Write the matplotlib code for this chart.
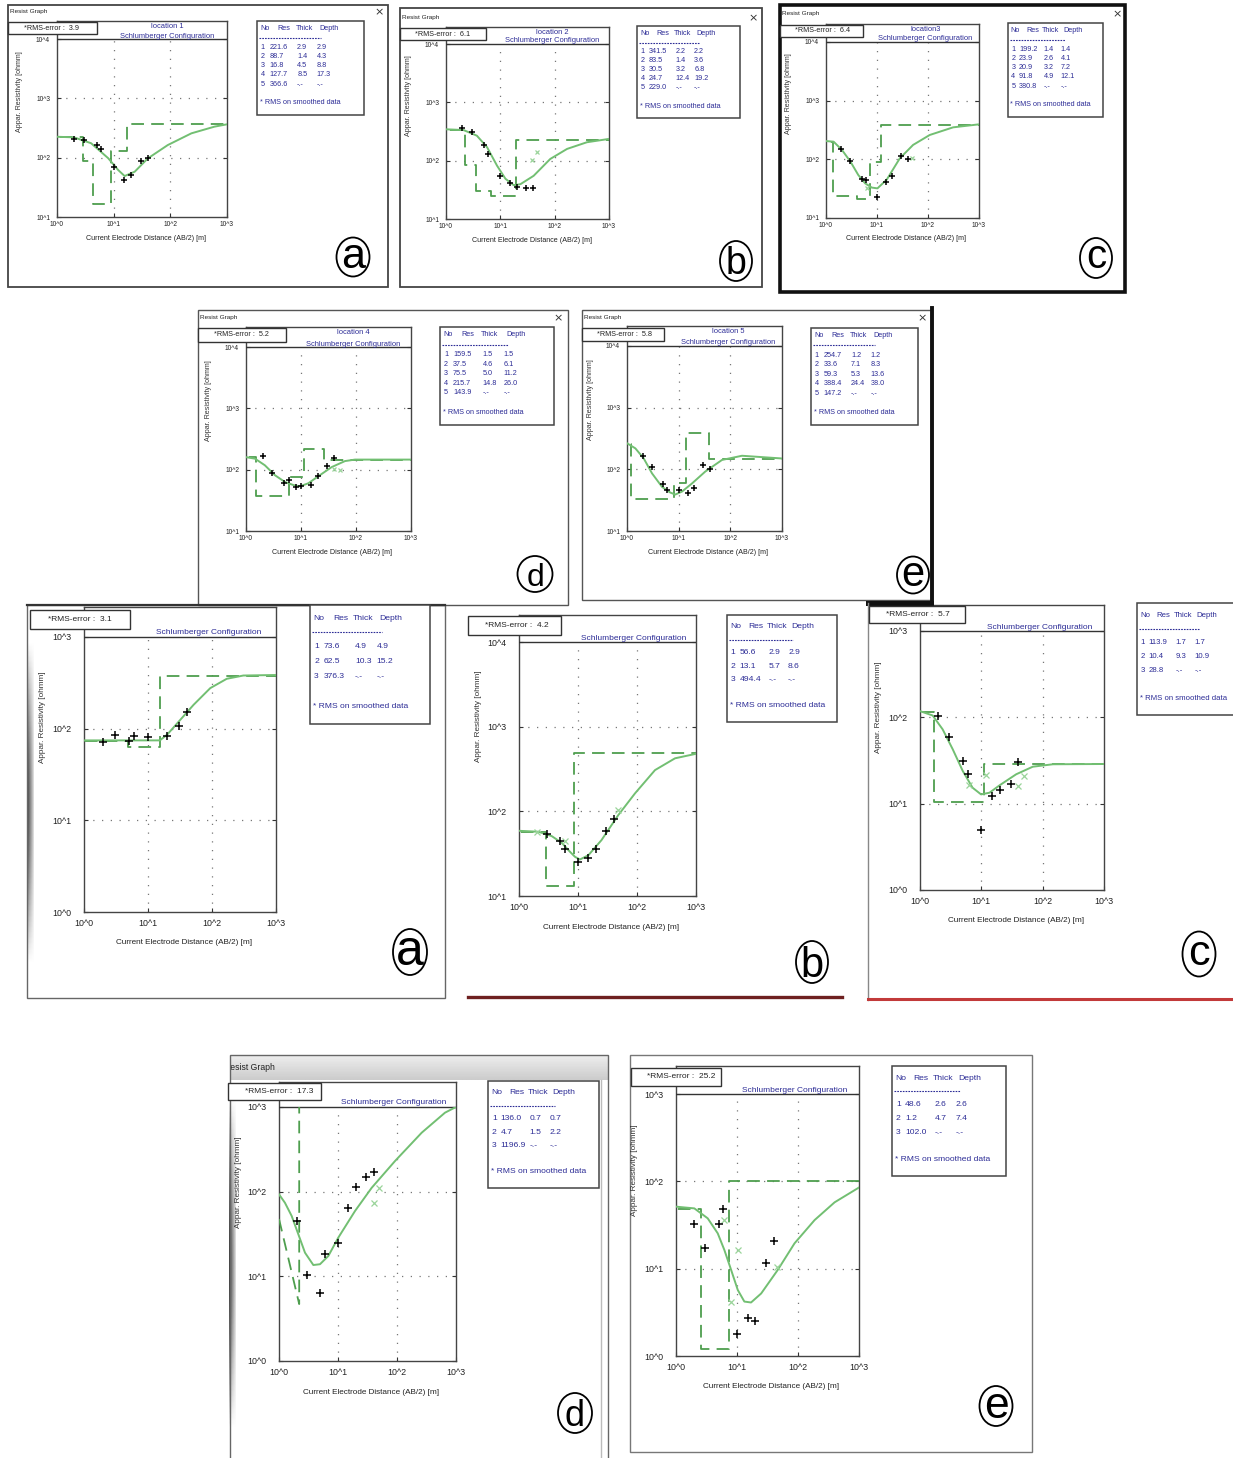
import numpy as np
import matplotlib
matplotlib.use("Agg")
import matplotlib.pyplot as plt
from matplotlib.patches import Rectangle, Ellipse
from matplotlib.lines import Line2D
from matplotlib.ticker import NullLocator
from matplotlib import font_manager

W, H = 1233, 1458
_names = {f.name for f in font_manager.fontManager.ttflist}
NARROW = "Liberation Sans Narrow" if "Liberation Sans Narrow" in _names else "Liberation Sans"
plt.rcParams["font.family"] = [NARROW, "DejaVu Sans"]

# ------------------------------------------------------------------ data
# panel 1 (location 1)
L1_RES = [221.6, 88.7, 16.8, 127.7, 366.6]
L1_THICK = [2.9, 1.4, 4.5, 8.5]
L1_DEPTH = [2.9, 4.3, 8.8, 17.3]
L1_PTS_X = [2, 3, 5, 6, 10, 15, 20, 30, 40]
L1_PTS_Y = [206, 198, 163, 140, 70, 42, 51, 89, 100]
L1_FIT_X = [1, 2, 4, 8, 12, 15.6, 23.5, 40, 90, 235, 600, 1000]
L1_FIT_Y = [225, 220, 175, 98, 62, 49, 58, 97, 163, 257, 333, 365]
L1_SM_X, L1_SM_Y = [], []
L1_RMS = 3.9

# panel 2 (location 2)
L2_RES = [341.5, 83.5, 30.5, 24.7, 229.0]
L2_THICK = [2.2, 1.4, 3.2, 12.4]
L2_DEPTH = [2.2, 3.6, 6.8, 19.2]
L2_PTS_X = [2, 3, 5, 6, 10, 15, 20, 30, 40]
L2_PTS_Y = [360, 305, 182, 128, 55, 42, 36, 34, 34]
L2_FIT_X = [1, 2.1, 3.7, 5.7, 8.7, 12.4, 17.6, 23.4, 41, 83, 169, 393, 1000]
L2_FIT_Y = [345, 335, 268, 170, 82, 49, 38, 39.5, 55, 107, 159, 207, 236]
L2_SM_X, L2_SM_Y = [39, 47], [102, 141]
L2_RMS = 6.1

# panel 3 (location3)
L3_RES = [199.2, 23.9, 20.9, 91.8, 380.8]
L3_THICK = [1.4, 2.6, 3.2, 4.9]
L3_DEPTH = [1.4, 4.1, 7.2, 12.1]
L3_PTS_X = [2, 3, 5, 6, 10, 15, 20, 30, 40]
L3_PTS_Y = [150, 95, 46, 45, 23, 41, 51, 114, 102]
L3_FIT_X = [1, 1.41, 2.05, 3, 4.3, 5.85, 7.9, 10.2, 15.5, 28, 51, 108, 311, 1000]
L3_FIT_Y = [205, 200, 145, 92, 54, 39, 33, 32, 45, 104, 176, 260, 351, 395]
L3_SM_X, L3_SM_Y = [6.3, 48], [32, 104]
L3_RMS = 6.4

# panel 4 (location 4)
L4_RES = [159.5, 37.5, 75.5, 215.7, 143.9]
L4_THICK = [1.5, 4.6, 5.0, 14.8]
L4_DEPTH = [1.5, 6.1, 11.2, 26.0]
L4_PTS_X = [2, 3, 5, 6, 8, 10, 15, 20, 30, 40]
L4_PTS_Y = [165, 89, 61, 67, 52, 54, 56, 78, 116, 157]
L4_FIT_X = [1, 1.46, 2.2, 3.37, 5.1, 7.3, 9.6, 13.6, 20.6, 36, 63, 96, 1000]
L4_FIT_Y = [160, 151, 118, 81, 63, 56, 53.5, 60, 78, 110, 138, 146, 146]
L4_SM_X, L4_SM_Y = [39, 51], [102, 100]
L4_RMS = 5.2

# panel 5 (location 5)
L5_RES = [254.7, 33.6, 59.3, 388.4, 147.2]
L5_THICK = [1.2, 7.1, 5.3, 24.4]
L5_DEPTH = [1.2, 8.3, 13.6, 38.0]
L5_PTS_X = [2, 3, 5, 6, 10, 15, 20, 30, 40]
L5_PTS_Y = [164, 108, 57, 46, 46, 42, 50, 116, 101]
L5_FIT_X = [1, 1.45, 2.1, 3.05, 4.76, 6.9, 8.6, 11.6, 18.1, 32.7, 69, 168, 1000]
L5_FIT_Y = [265, 219, 151, 86, 52, 42, 39, 43.6, 59, 92, 142, 166, 150]
L5_SM_X, L5_SM_Y = [], []
L5_RMS = 5.8

# panel 6 (second set a)
S1_RES = [73.6, 62.5, 376.3]
S1_THICK = [4.9, 10.3]
S1_DEPTH = [4.9, 15.2]
S1_PTS_X = [2, 3, 5, 6, 10, 20, 30, 40]
S1_PTS_Y = [71, 86, 74, 83, 81, 83, 107, 151]
S1_FIT_X = [1, 4.7, 15.3, 19.8, 32, 51.5, 94, 170, 309, 1000]
S1_FIT_Y = [74.5, 74.5, 74.5, 85.6, 125, 182, 277, 350, 380, 385]
S1_SM_X, S1_SM_Y = [], []
S1_RMS = 3.1

# panel 7 (second set b)
S2_RES = [56.6, 13.1, 494.4]
S2_THICK = [2.9, 5.7]
S2_DEPTH = [2.9, 8.6]
S2_PTS_X = [3, 5, 6, 10, 15, 20, 30, 40]
S2_PTS_Y = [54, 45, 36, 25, 28, 36, 59, 82]
S2_FIT_X = [1, 2.13, 3.58, 5.3, 6.9, 8.9, 10.8, 15, 25, 48, 92.5, 202, 441, 1000]
S2_FIT_Y = [58.9, 57.4, 51, 42.5, 34.7, 29, 27, 30.3, 45.7, 90, 163, 307, 423, 478]
S2_SM_X, S2_SM_Y = [2, 6, 48], [57, 45, 105]
S2_RMS = 4.2

# panel 8 (second set c)
S3_RES = [113.9, 10.4, 28.8]
S3_THICK = [1.7, 9.3]
S3_DEPTH = [1.7, 10.9]
S3_PTS_X = [2, 3, 5, 6, 10, 15, 20, 30, 40]
S3_PTS_Y = [104, 59, 31, 22, 5.0, 12.3, 14.4, 16.7, 30]
S3_FIT_X = [1, 1.61, 2.34, 3.42, 4.98, 7.2, 9.9, 13.6, 19.8, 37, 69, 147, 1000]
S3_FIT_Y = [118, 105, 72.6, 42.6, 23.9, 15.3, 12.8, 13.4, 16.3, 21.9, 26.8, 28.6, 28.8]
S3_SM_X, S3_SM_Y = [6.2, 12, 39, 49], [16.3, 21.3, 16, 20.9]
S3_RMS = 5.7

# panel 9 (second set d)
S4_RES = [136.0, 4.7, 1196.9]
S4_THICK = [0.7, 1.5]
S4_DEPTH = [0.7, 2.2]
S4_PTS_X = [2, 3, 5, 6, 10, 15, 20, 30, 40]
S4_PTS_Y = [45, 10.3, 6.3, 18.5, 24.5, 63.5, 113.5, 149, 172]
S4_FIT_X = [1, 1.26, 1.64, 2.13, 2.76, 3.82, 4.95, 6.86, 10.1, 19.4, 37.2, 92.5, 262, 651, 1000]
S4_FIT_Y = [93, 74, 51.6, 31.3, 19, 13.6, 13.9, 17.4, 28.6, 59, 111, 230, 497, 857, 1000]
S4_SM_X, S4_SM_Y = [41, 50], [74, 111]
S4_RMS = 17.3

# panel 10 (second set e)
S5_RES = [48.6, 1.2, 102.0]
S5_THICK = [2.6, 4.7]
S5_DEPTH = [2.6, 7.4]
S5_PTS_X = [2, 3, 5, 6, 10, 15, 20, 30, 40]
S5_PTS_Y = [32.2, 17.1, 32.2, 47.8, 1.79, 2.75, 2.52, 11.7, 20.9]
S5_FIT_X = [1, 2, 3.31, 4.83, 6.2, 8, 10.3, 13.2, 17, 24.9, 46.7, 87.7, 187, 398, 1000]
S5_FIT_Y = [51.3, 49, 37.7, 25.4, 16.4, 9.7, 5.7, 4.2, 4.1, 5.2, 9.7, 19.5, 36, 57.5, 85]
S5_SM_X, S5_SM_Y = [6.2, 10.3, 8, 46], [36, 16.4, 4.2, 10.5]
S5_RMS = 25.2

X_TICK_LABELS = ["10^0", "10^1", "10^2", "10^3"]
XLABEL = "Current Electrode Distance (AB/2) [m]"
YLABEL = "Appar. Resistivity [ohmm]"
CONFIG = "Schlumberger Configuration"

# ------------------------------------------------------------------ layout (pixels)
PANELS = [
    dict(res=L1_RES, thick=L1_THICK, depth=L1_DEPTH, px=L1_PTS_X, py=L1_PTS_Y, fx=L1_FIT_X, fy=L1_FIT_Y,
         sx=L1_SM_X, sy=L1_SM_Y, rms=L1_RMS, loc="location 1", letter="a",
         ax=(57, 227, 21, 39, 217), yd=(1, 4), rmsbox=(8, 22, 97, 34), table=(257, 21, 364, 115),
         circ=(353, 257, 16.5, 19.5, 31), small=True),
    dict(res=L2_RES, thick=L2_THICK, depth=L2_DEPTH, px=L2_PTS_X, py=L2_PTS_Y, fx=L2_FIT_X, fy=L2_FIT_Y,
         sx=L2_SM_X, sy=L2_SM_Y, rms=L2_RMS, loc="location 2", letter="b",
         ax=(446, 609, 27, 44, 219), yd=(1, 4), rmsbox=(400, 28, 486, 40), table=(637, 26, 740, 118),
         circ=(736, 261, 16, 20, 27), small=True),
    dict(res=L3_RES, thick=L3_THICK, depth=L3_DEPTH, px=L3_PTS_X, py=L3_PTS_Y, fx=L3_FIT_X, fy=L3_FIT_Y,
         sx=L3_SM_X, sy=L3_SM_Y, rms=L3_RMS, loc="location3", letter="c",
         ax=(826, 979, 24, 42, 218), yd=(1, 4), rmsbox=(780, 25, 863, 37), table=(1008, 23, 1103, 117),
         circ=(1096, 258, 16, 20, 29), small=True),
    dict(res=L4_RES, thick=L4_THICK, depth=L4_DEPTH, px=L4_PTS_X, py=L4_PTS_Y, fx=L4_FIT_X, fy=L4_FIT_Y,
         sx=L4_SM_X, sy=L4_SM_Y, rms=L4_RMS, loc="location 4", letter="d",
         ax=(246, 411, 327, 347, 531), yd=(1, 4), rmsbox=(198, 328, 286, 342), table=(440, 327, 554, 425),
         circ=(535, 574, 17.5, 18, 23), small=True),
    dict(res=L5_RES, thick=L5_THICK, depth=L5_DEPTH, px=L5_PTS_X, py=L5_PTS_Y, fx=L5_FIT_X, fy=L5_FIT_Y,
         sx=L5_SM_X, sy=L5_SM_Y, rms=L5_RMS, loc="location 5", letter="e",
         ax=(627, 782, 326, 346, 531), yd=(1, 4), rmsbox=(582, 328, 664, 341), table=(811, 328, 918, 425),
         circ=(913, 575, 16, 18.5, 30), small=True),
    dict(res=S1_RES, thick=S1_THICK, depth=S1_DEPTH, px=S1_PTS_X, py=S1_PTS_Y, fx=S1_FIT_X, fy=S1_FIT_Y,
         sx=S1_SM_X, sy=S1_SM_Y, rms=S1_RMS, loc=None, letter="a",
         ax=(84, 276, 607, 637, 912), yd=(0, 3), rmsbox=(30, 610, 130, 629), table=(310, 605, 430, 724),
         circ=(410, 952, 17, 23, 36), small=False),
    dict(res=S2_RES, thick=S2_THICK, depth=S2_DEPTH, px=S2_PTS_X, py=S2_PTS_Y, fx=S2_FIT_X, fy=S2_FIT_Y,
         sx=S2_SM_X, sy=S2_SM_Y, rms=S2_RMS, loc=None, letter="b",
         ax=(519, 696, 615, 642, 896), yd=(1, 4), rmsbox=(468, 616, 561, 635), table=(727, 615, 837, 722),
         circ=(812, 962, 16, 21, 30), small=False),
    dict(res=S3_RES, thick=S3_THICK, depth=S3_DEPTH, px=S3_PTS_X, py=S3_PTS_Y, fx=S3_FIT_X, fy=S3_FIT_Y,
         sx=S3_SM_X, sy=S3_SM_Y, rms=S3_RMS, loc=None, letter="c", tab_fs=5.6,
         ax=(920, 1104, 605, 631, 890), yd=(0, 3), rmsbox=(869, 606, 965, 623), table=(1137, 603, 1240, 715),
         circ=(1199, 954, 16.5, 22.5, 31), small=False),
    dict(res=S4_RES, thick=S4_THICK, depth=S4_DEPTH, px=S4_PTS_X, py=S4_PTS_Y, fx=S4_FIT_X, fy=S4_FIT_Y,
         sx=S4_SM_X, sy=S4_SM_Y, rms=S4_RMS, loc=None, letter="d", slope_first=True,
         ax=(279, 456, 1082, 1107, 1361), yd=(0, 3), rmsbox=(228, 1083, 321, 1100), table=(488, 1081, 599, 1188),
         circ=(575, 1413, 17, 20, 26), small=False),
    dict(res=S5_RES, thick=S5_THICK, depth=S5_DEPTH, px=S5_PTS_X, py=S5_PTS_Y, fx=S5_FIT_X, fy=S5_FIT_Y,
         sx=S5_SM_X, sy=S5_SM_Y, rms=S5_RMS, loc=None, letter="e",
         ax=(676, 859, 1066, 1094, 1356), yd=(0, 3), rmsbox=(631, 1068, 721, 1086), table=(892, 1066, 1006, 1176),
         circ=(996, 1406, 16.5, 20, 32), small=False),
]

GREEN_FIT = "#72bf72"
GREEN_MODEL = "#4e9e4e"
GREEN_SM = "#9ad49a"
NAVY = "#2c2c96"

fig = plt.figure(figsize=(W / 100, H / 100), dpi=100)
fig.patch.set_facecolor("white")


def FX(x):
    return x / W


def FY(y):
    return 1 - y / H


def frect(x0, y0, x1, y1, **kw):
    r = Rectangle((FX(x0), FY(y1)), (x1 - x0) / W, (y1 - y0) / H, transform=fig.transFigure, **kw)
    fig.add_artist(r)
    return r


def fline(xs, ys, **kw):
    fig.add_artist(Line2D([FX(x) for x in xs], [FY(y) for y in ys], transform=fig.transFigure, **kw))


def ftext(x, y, s, **kw):
    return fig.text(FX(x), FY(y), s, **kw)


# ------------------------------------------------------------------ window frames / decorations
# row 1
frect(8, 5, 388, 287, fill=False, ec="#444", lw=1.3)
frect(400, 8, 762, 287, fill=False, ec="#444", lw=1.3)
frect(780, 5, 1125, 292, fill=False, ec="#111", lw=2.6)
for (x, y, xx) in [(10, 12, 379), (402, 18, 753), (782, 14, 1117)]:
    ftext(x, y, "Resist Graph", fontsize=4.6, va="center", ha="left", color="#222")
    ftext(xx, y, "×", fontsize=8, va="center", ha="center", color="#333", family="DejaVu Sans")
# row 2
frect(198, 310, 568, 605, fill=False, ec="#555", lw=1.0)
frect(582, 310, 932, 600, fill=False, ec="#555", lw=1.0)
fline([932, 932], [308, 602], color="#111", lw=2.8)
for (x, y, xx) in [(200, 318, 558), (584, 318, 922)]:
    ftext(x, y, "Resist Graph", fontsize=4.6, va="center", ha="left", color="#222")
    ftext(xx, y, "×", fontsize=8, va="center", ha="center", color="#333", family="DejaVu Sans")
# row 3
frect(27, 605, 445, 998, fill=False, ec="#666", lw=1.0)
fline([27, 445], [605, 605], color="#333", lw=1.6)
fline([468, 842], [997, 997], color="#6e2020", lw=2.4)
fline([868, 868], [603, 1000], color="#888", lw=1.0)
fline([868, 1233], [999, 999], color="#c23a3a", lw=2.2)
frect(866, 601, 934, 606, fc="#111", ec="none")
# row 4
frect(230, 1055, 608, 1462, fill=False, ec="#666", lw=1.0)
frect(630, 1055, 1032, 1452, fill=False, ec="#777", lw=1.0)
gax = fig.add_axes([FX(230), FY(1080), (608 - 230) / W, 25 / H])
gax.imshow(np.linspace(0.93, 0.80, 20)[:, None] * np.ones((1, 2)), cmap="gray", vmin=0, vmax=1,
           aspect="auto", extent=(0, 1, 0, 1))
gax.axis("off")
clip_r = Rectangle((FX(231), FY(1080)), 376 / W, 25 / H, transform=fig.transFigure)
t = ftext(224, 1068, "Resist Graph", fontsize=6.2, va="center", ha="left", color="#222")
t.set_clip_path(clip_r)
fline([601, 601], [1080, 1458], color="#bbb", lw=1.0)
# left shadows
for (x0, y0, y1) in [(27, 640, 965), (229, 1095, 1430)]:
    sax = fig.add_axes([FX(x0), FY(y1), 7 / W, (y1 - y0) / H])
    prof = np.sin(np.linspace(0, np.pi, 60))[:, None] * np.linspace(1.0, 0.2, 6)[None, :]
    sax.imshow(1 - 0.75 * prof, cmap="gray", vmin=0, vmax=1, aspect="auto")
    sax.axis("off")


# ------------------------------------------------------------------ panels
def draw_panel(p):
    L, R, T, LN, B = p["ax"]
    y0d, y1d = p["yd"]
    small = p["small"]
    dec_px = (B - LN) / (y1d - y0d)
    band = (LN - T) / dec_px
    fs_tick = 4.8 if small else 6.4
    fs_lab = 5.1 if small else 5.9
    fs_title = 5.4 if small else 6.0
    fs_tab = p.get("tab_fs", 5.2 if small else 6.1)
    fs_rms = 5.2 if small else 6.0

    ax = fig.add_axes([FX(L), FY(B), (R - L) / W, (B - T) / H])
    ax.set_xscale("log")
    ax.set_yscale("log")
    ax.set_xlim(1, 1000)
    ax.set_ylim(10 ** y0d, 10 ** (y1d + band))
    ax.set_xticks([1, 10, 100, 1000])
    ax.set_xticklabels(X_TICK_LABELS)
    yt = [10 ** k for k in range(y0d, y1d + 1)]
    ax.set_yticks(yt)
    ax.set_yticklabels(["10^%d" % k for k in range(y0d, y1d + 1)])
    ax.xaxis.set_minor_locator(NullLocator())
    ax.yaxis.set_minor_locator(NullLocator())
    ax.tick_params(axis="both", direction="in", length=3, width=0.8, colors="#333",
                   labelsize=fs_tick, labelcolor="#222", right=True, top=False)
    ax.tick_params(axis="x", pad=3 if small else 5)
    ax.tick_params(axis="y", pad=5 if small else 9)
    for s in ax.spines.values():
        s.set_color("#444")
        s.set_linewidth(1.0)
    ax.patch.set_facecolor("white")
    gkw = dict(color="#777", lw=0.9, ls=(0, (1, 6)), zorder=1)
    for gx in [10, 100]:
        ax.plot([gx, gx], [10 ** y0d, 10 ** y1d], **gkw)
    for k in range(y0d + 1, y1d):
        ax.plot([1, 1000], [10 ** k, 10 ** k], **gkw)
    ax.axhline(10 ** y1d, color="#333", lw=1.0, zorder=3)
    clip = Rectangle((0, 0), 1, (B - LN) / (B - T), transform=ax.transAxes)

    # layered model (dashed step)
    res, depth = p["res"], p["depth"]
    if p.get("slope_first"):
        mx, my = [depth[0]], [res[0]]
        for i in range(1, len(depth)):
            mx += [depth[i], depth[i]]
            my += [res[i], res[i + 1]]
    else:
        mx, my = [0.5], [res[0]]
        for i, d in enumerate(depth):
            mx += [d, d]
            my += [res[i], res[i + 1]]
    mx.append(2000)
    my.append(res[-1])
    ml, = ax.plot(mx, my, color=GREEN_MODEL, lw=1.3, ls=(0, (7, 4)), zorder=4)
    ml.set_clip_path(clip)
    fl, = ax.plot(p["fx"], p["fy"], color=GREEN_FIT, lw=1.4, zorder=5)
    fl.set_clip_path(clip)
    if p["sx"]:
        ax.plot(p["sx"], p["sy"], "x", color=GREEN_SM, ms=3 if small else 4, mew=0.9, zorder=6)
    ax.plot(p["px"], p["py"], "+", color="black", ms=4.5 if small else 6, mew=1.1, zorder=7)

    # axis labels
    ftext((L + R) / 2 + 4, B + (21 if small else 31), XLABEL, fontsize=fs_lab, ha="center", va="center",
          color="#222")
    ftext(L - (37 if small else 41), B - 0.64 * (B - T), YLABEL, fontsize=fs_lab, rotation=90,
          ha="center", va="center", color="#333")

    # titles
    tx = L + 0.65 * (R - L)
    if p["loc"]:
        ftext(tx, T + 5.5, p["loc"], fontsize=fs_title, ha="center", va="center", color=NAVY)
    ftext(tx, LN - (1.5 if small else 2.5), CONFIG, fontsize=fs_title, ha="center", va="baseline",
          color=NAVY)

    # RMS box
    x0, y0, x1, y1 = p["rmsbox"]
    frect(x0, y0, x1, y1, fc="white", ec="#333", lw=1.0, zorder=10)
    ftext(x0 + 0.18 * (x1 - x0), (y0 + y1) / 2, "*RMS-error :  %.1f" % p["rms"], fontsize=fs_rms,
          ha="left", va="center", color="#222", zorder=11)

    # table
    x0, y0, x1, y1 = p["table"]
    tw, th = x1 - x0, y1 - y0
    frect(x0, y0, x1, y1, fc="white", ec="#444", lw=1.1, zorder=10)
    n = len(res)
    if n == 5:
        hy, uy, r0, dr, ny = 0.08, 0.18, 0.28, 0.098, 0.87
    else:
        hy, uy, r0, dr, ny = 0.11, 0.23, 0.35, 0.127, 0.85
    kw = dict(fontsize=fs_tab, ha="left", va="center", color=NAVY, zorder=11)
    for lab, fr in [("No", 0.03), ("Res", 0.19), ("Thick", 0.36), ("Depth", 0.58)]:
        ftext(x0 + fr * tw, y0 + hy * th, lab, **kw)
    fline([x0 + 0.02 * tw, x0 + 0.6 * tw], [y0 + uy * th] * 2, color=NAVY, lw=0.8,
          ls=(0, (1.5, 1)), zorder=11)
    for i in range(n):
        yy = y0 + (r0 + i * dr) * th
        th_s = "%.1f" % p["thick"][i] if i < n - 1 else "-.-"
        dp_s = "%.1f" % depth[i] if i < n - 1 else "-.-"
        ftext(x0 + 0.035 * tw, yy, str(i + 1), **kw)
        ftext(x0 + 0.115 * tw, yy, "%.1f" % res[i], **kw)
        ftext(x0 + 0.375 * tw, yy, th_s, **kw)
        ftext(x0 + 0.555 * tw, yy, dp_s, **kw)
    ftext(x0 + 0.025 * tw, y0 + ny * th, "* RMS on smoothed data", **kw)

    # circled letter
    cx, cy, rx, ry, lfs = p["circ"]
    fig.add_artist(Ellipse((FX(cx), FY(cy)), 2 * rx / W, 2 * ry / H, transform=fig.transFigure,
                           fill=False, ec="black", lw=1.3))
    em = lfs * 100 / 72
    if p["letter"] in ("b", "d"):
        base = cy + 0.5 * 0.72 * em
    else:
        base = cy + 0.5 * 0.52 * em
    ftext(cx, base, p["letter"], fontsize=lfs, ha="center", va="baseline", color="black")


for p in PANELS:
    draw_panel(p)

fig.savefig("out.png", dpi=100, facecolor="white")
